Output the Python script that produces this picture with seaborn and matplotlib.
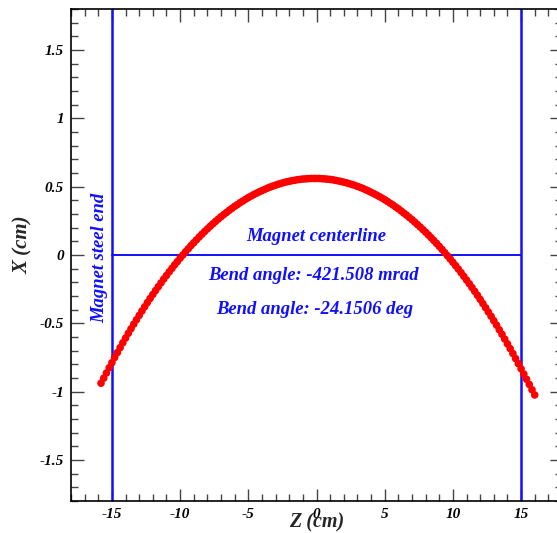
import numpy as np
import pandas as pd
import matplotlib
matplotlib.use("Agg")
import matplotlib.pyplot as plt
import seaborn as sns
from matplotlib.ticker import MultipleLocator, FuncFormatter

# Beam trajectory through the magnet: longitudinal position Z (cm), 0.2 cm steps
z_cm = np.round(np.arange(-15.8, 16.0 + 1e-9, 0.2), 1)

# Transverse offset X (cm) at each Z sample
x_cm = [
    -0.938, -0.901, -0.863, -0.825, -0.788, -0.750, -0.714, -0.678, -0.642, -0.608,
    -0.573, -0.540, -0.506, -0.474, -0.442, -0.410, -0.379, -0.348, -0.318, -0.289,
    -0.260, -0.232, -0.204, -0.176, -0.150, -0.123, -0.098, -0.072, -0.048, -0.023,
    0.000, 0.024, 0.046, 0.069, 0.090, 0.111, 0.132, 0.152, 0.172, 0.191,
    0.210, 0.228, 0.246, 0.263, 0.280, 0.296, 0.311, 0.327, 0.341, 0.356,
    0.369, 0.383, 0.395, 0.408, 0.420, 0.431, 0.442, 0.452, 0.462, 0.471,
    0.480, 0.489, 0.497, 0.504, 0.511, 0.518, 0.524, 0.530, 0.535, 0.539,
    0.544, 0.547, 0.551, 0.553, 0.556, 0.557, 0.559, 0.560, 0.560, 0.560,
    0.560, 0.558, 0.557, 0.555, 0.553, 0.550, 0.546, 0.542, 0.538, 0.533,
    0.528, 0.522, 0.516, 0.510, 0.502, 0.495, 0.487, 0.478, 0.469, 0.459,
    0.449, 0.439, 0.428, 0.417, 0.405, 0.392, 0.379, 0.366, 0.352, 0.338,
    0.323, 0.307, 0.292, 0.275, 0.259, 0.241, 0.223, 0.205, 0.186, 0.167,
    0.147, 0.127, 0.106, 0.085, 0.063, 0.041, 0.018, -0.005, -0.029, -0.053,
    -0.078, -0.103, -0.129, -0.156, -0.183, -0.210, -0.238, -0.266, -0.295, -0.325,
    -0.355, -0.386, -0.417, -0.448, -0.481, -0.513, -0.547, -0.580, -0.615, -0.650,
    -0.685, -0.721, -0.758, -0.795, -0.833, -0.871, -0.909, -0.947, -0.986, -1.024,
]

# Magnet geometry (cm)
steel_ends = [-15.0, 15.0]
centerline_x = 0.0

bend_mrad = -421.508
bend_deg = -24.1506

z_range = (-18, 18)
x_range = (-1.8, 1.8)

df = pd.DataFrame({"Z": z_cm, "X": x_cm})

sns.set_style("ticks")
plt.rcParams["font.family"] = ["Liberation Serif", "DejaVu Serif"]

fig = plt.figure(figsize=(5.57, 5.33), dpi=100)
ax = fig.add_axes([71 / 557, 32 / 533, 491 / 557, 492 / 533])

blue = "#1010ff"
for zs in steel_ends:
    ax.axvline(zs, color=blue, lw=1.8, zorder=2)
ax.plot(steel_ends, [centerline_x, centerline_x], color=blue, lw=1.4, zorder=2)

sns.scatterplot(data=df, x="Z", y="X", ax=ax, color="red", s=30,
                edgecolor="none", linewidth=0, zorder=3, legend=False)

ax.set_xlim(*z_range)
ax.set_ylim(*x_range)

txt = dict(color=blue, fontweight="bold", style="italic", fontsize=13.4)
ax.text(0.0, 0.135, "Magnet centerline", ha="center", va="center", **txt)
ax.text(-0.2, -0.15, f"Bend angle: {bend_mrad} mrad", ha="center", va="center", **txt)
ax.text(-0.1, -0.40, f"Bend angle: {bend_deg} deg", ha="center", va="center", **txt)
ax.text(-15.9, -0.02, "Magnet steel end", rotation=90, ha="center", va="center", **txt)

ax.xaxis.set_major_locator(MultipleLocator(5))
ax.xaxis.set_minor_locator(MultipleLocator(1))
ax.yaxis.set_major_locator(MultipleLocator(0.5))
ax.yaxis.set_minor_locator(MultipleLocator(0.1))
ax.xaxis.set_major_formatter(FuncFormatter(lambda v, p: f"{v:g}"))
ax.yaxis.set_major_formatter(FuncFormatter(lambda v, p: f"{v:g}"))

ax.tick_params(which="both", direction="in", top=True, right=True, colors="#444444",
               labelcolor="black")
ax.tick_params(which="major", length=9, width=1)
ax.tick_params(which="minor", length=5, width=1)
ax.tick_params(axis="x", which="major", pad=5)
ax.tick_params(axis="y", which="major", pad=5)
for lab in ax.get_xticklabels() + ax.get_yticklabels():
    lab.set_fontweight("bold")
    lab.set_fontstyle("italic")
    lab.set_fontsize(11)

for sp in ax.spines.values():
    sp.set_color("black")
    sp.set_linewidth(1.2)

ax.set_xlabel("Z (cm)", fontsize=14.5, fontweight="bold", style="italic")
ax.set_ylabel("X (cm)", fontsize=15, fontweight="bold", style="italic")
ax.xaxis.set_label_coords(0.5, -0.023)
ax.yaxis.set_label_coords(-0.078, 0.52)

fig.savefig("out.png", dpi=100, facecolor="white")
